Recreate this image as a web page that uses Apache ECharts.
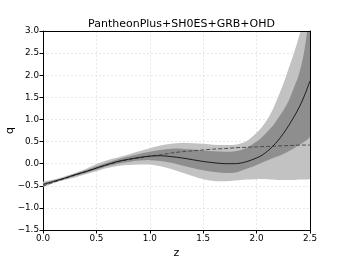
<!DOCTYPE html>
<html><head><meta charset="utf-8">
<script src="https://cdn.jsdelivr.net/npm/echarts@6/dist/echarts.min.js"></script>
<style>html,body{margin:0;padding:0;background:#fff}#c{width:345px;height:259px}</style>
</head><body><div id="c"></div>
<script>
const zValues = [0,0.1,0.2,0.3,0.4,0.5,0.6,0.7,0.8,0.9,1.0,1.1,1.2,1.3,1.4,1.5,1.6,1.7,1.8,1.9,2.0,2.05,2.1,2.15,2.2,2.25,2.3,2.35,2.4,2.45,2.5];
const meanQ = [-0.47,-0.40,-0.33,-0.25,-0.18,-0.10,-0.02,0.05,0.10,0.14,0.17,0.18,0.16,0.13,0.09,0.05,0.02,0.00,0.00,0.04,0.13,0.19,0.28,0.39,0.52,0.68,0.86,1.06,1.28,1.55,1.87];
const lcdmQ = [-0.51,-0.42,-0.34,-0.26,-0.18,-0.10,-0.03,0.04,0.09,0.13,0.17,0.20,0.24,0.27,0.29,0.31,0.33,0.34,0.36,0.37,0.38,0.385,0.39,0.395,0.40,0.405,0.41,0.415,0.42,0.42,0.42];
const sigma1Lower = [-0.50,-0.42,-0.35,-0.28,-0.21,-0.14,-0.06,0.00,0.04,0.07,0.08,0.06,0.02,-0.04,-0.10,-0.15,-0.19,-0.21,-0.20,-0.12,-0.03,0.02,0.07,0.12,0.17,0.22,0.28,0.35,0.42,0.50,0.60];
const sigma1Upper = [-0.44,-0.38,-0.31,-0.23,-0.15,-0.06,0.02,0.10,0.16,0.22,0.27,0.31,0.34,0.34,0.32,0.30,0.28,0.27,0.28,0.35,0.50,0.60,0.72,0.85,1.02,1.20,1.42,1.72,2.05,2.60,3.50];
const sigma2Lower = [-0.53,-0.44,-0.37,-0.31,-0.24,-0.17,-0.10,-0.05,-0.03,-0.02,-0.02,-0.06,-0.12,-0.20,-0.28,-0.35,-0.39,-0.40,-0.38,-0.36,-0.35,-0.35,-0.35,-0.36,-0.37,-0.37,-0.37,-0.37,-0.36,-0.36,-0.35];
const sigma2Upper = [-0.41,-0.36,-0.29,-0.21,-0.12,-0.01,0.08,0.14,0.21,0.28,0.35,0.41,0.45,0.47,0.46,0.45,0.43,0.42,0.43,0.50,0.70,0.83,1.00,1.22,1.50,1.80,2.15,2.50,2.90,3.35,3.80];
const xTicks = {min:0, max:2.5, step:0.5};
const yTicks = {min:-1.5, max:3.0, step:0.5};
const titleText = 'PantheonPlus+SH0ES+GRB+OHD';

const pair = (arr) => arr.map((v,i)=>[zValues[i], v]);
const FONT = 'DejaVu Sans';
const fmt = v => { let s = Number(v).toFixed(1); return s.replace('-', '\u2212'); };

// smooth outline: cardinal spline along upper edge, then back along lower edge
function splineSeg(pts){
  let d = '';
  for (let i=0;i<pts.length-1;i++){
    const p0 = pts[Math.max(i-1,0)], p1 = pts[i], p2 = pts[i+1], p3 = pts[Math.min(i+2,pts.length-1)];
    const t = 1/6;
    const c1 = [p1[0]+(p2[0]-p0[0])*t, p1[1]+(p2[1]-p0[1])*t];
    const c2 = [p2[0]-(p3[0]-p1[0])*t, p2[1]-(p3[1]-p1[1])*t];
    d += ' C'+c1[0]+' '+c1[1]+' '+c2[0]+' '+c2[1]+' '+p2[0]+' '+p2[1];
  }
  return d;
}
function buildPath(up, lo){
  return 'M'+up[0][0]+' '+up[0][1] + splineSeg(up) + ' L'+lo[0][0]+' '+lo[0][1] + splineSeg(lo) + ' Z';
}
function bandSeries(lower, upper, color) {
  return {
    type:'custom', clip:true, silent:true, animation:false,
    data:[[zValues[0], lower[0]]],
    encode:{x:0, y:1},
    renderItem:function(params, api){
      const up = zValues.map((z,i)=>api.coord([z, upper[i]]));
      const lo = zValues.map((z,i)=>api.coord([z, lower[i]])).reverse();
      return {type:'path', shape:{pathData:buildPath(up, lo)}, style:{fill:color, stroke:null}};
    }
  };
}

const frameAxis = (pos) => ({
  type:'value', position:pos, z:5, min:(pos==='top'?xTicks.min:yTicks.min), max:(pos==='top'?xTicks.max:yTicks.max),
  axisLine:{show:true, onZero:false, lineStyle:{color:'#000', width:1}},
  axisTick:{show:false}, axisLabel:{show:false}, splitLine:{show:false}
});

const chart = echarts.init(document.getElementById('c'), null, {renderer:'canvas'});
chart.setOption({
  animation:false,
  title:{text:titleText, left:176.5, textAlign:'center', top:14,
    textStyle:{fontFamily:FONT, fontSize:11, fontWeight:'normal', color:'#000'}},
  grid:{left:43, right:35, top:31, bottom:29, containLabel:false, outerBoundsMode:'none', show:false},
  xAxis:[{type:'value', min:xTicks.min, max:xTicks.max, interval:xTicks.step,
    name:'z', nameLocation:'middle', nameGap:17,
    nameTextStyle:{fontFamily:FONT, fontSize:11, color:'#000'},
    axisLine:{show:true, onZero:false, lineStyle:{color:'#000', width:1}},
    axisTick:{show:true, length:3.5, lineStyle:{color:'#000'}},
    axisLabel:{fontFamily:FONT, fontSize:8.8, color:'#000', margin:4, formatter:fmt},
    splitLine:{show:true, lineStyle:{color:'#e3e3e3', width:0.8, type:[2,2]}}},
    frameAxis('top')],
  yAxis:[{type:'value', min:yTicks.min, max:yTicks.max, interval:yTicks.step,
    name:'q', nameLocation:'middle', nameGap:27, nameMoveOverlap:false,
    nameTextStyle:{fontFamily:FONT, fontSize:11, color:'#000'},
    axisLine:{show:true, onZero:false, lineStyle:{color:'#000', width:1}},
    axisTick:{show:true, length:3.5, lineStyle:{color:'#000'}},
    axisLabel:{fontFamily:FONT, fontSize:8.8, color:'#000', margin:4, formatter:fmt},
    splitLine:{show:true, lineStyle:{color:'#e3e3e3', width:0.8, type:[2,2]}}},
    frameAxis('right')],
  series:[
    bandSeries(sigma2Lower, sigma2Upper, '#c2c2c2'),
    bandSeries(sigma1Lower, sigma1Upper, '#8e8e8e'),
    {type:'line', name:'LCDM', data:pair(lcdmQ), symbol:'none', smooth:0.3, animation:false,
      lineStyle:{color:'#4a4a4a', width:1, type:[4,2]}},
    {type:'line', name:'mean', data:pair(meanQ), symbol:'none', smooth:0.3, animation:false,
      lineStyle:{color:'#000', width:0.8}}
  ]
});
</script></body></html>
